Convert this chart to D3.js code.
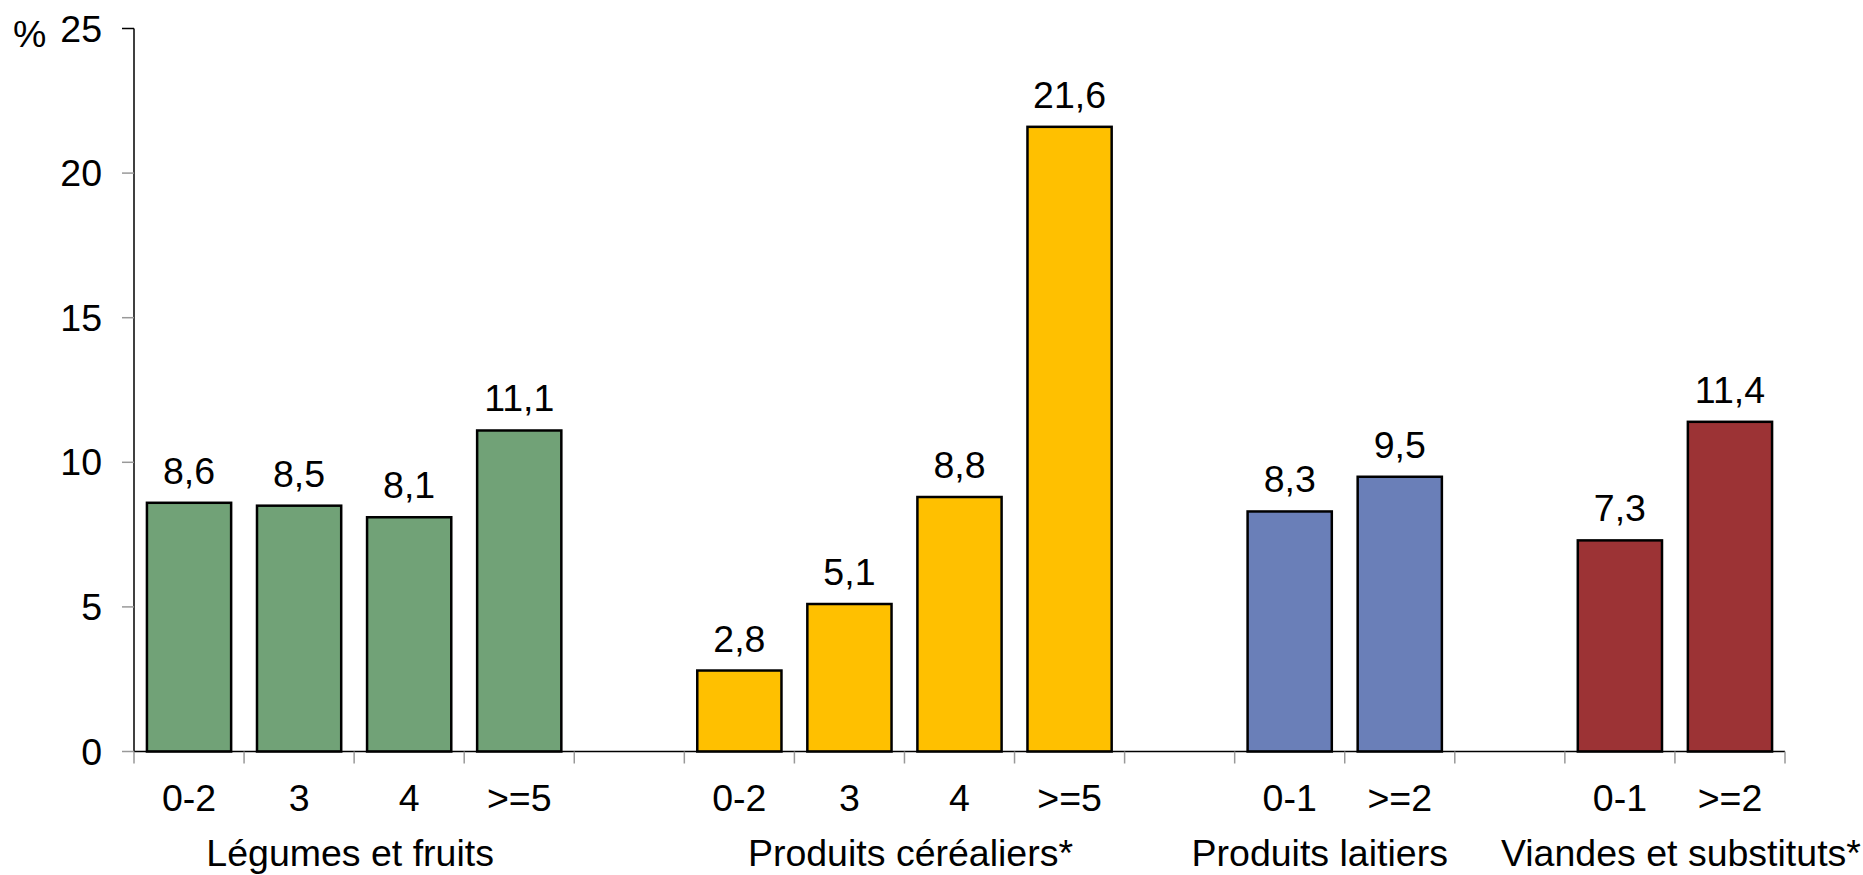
<!DOCTYPE html>
<html>
<head>
<meta charset="utf-8">
<script src="https://cdn.jsdelivr.net/npm/d3@7"></script>
<style>
html,body{margin:0;padding:0;background:#fff;}
svg{display:block;}
text{font-family:"Liberation Sans",Arial,sans-serif;fill:#000;}
</style>
</head>
<body>
<svg id="chart" width="1863" height="875"></svg>
<script>
// ---- data ----
const groups = ["Légumes et fruits", "Produits céréaliers*", "Produits laitiers", "Viandes et substituts*"];
const groupCategories = [
  ["0-2", "3", "4", ">=5"],
  ["0-2", "3", "4", ">=5"],
  ["0-1", ">=2"],
  ["0-1", ">=2"]
];
const groupValues = [
  [8.6, 8.5, 8.1, 11.1],
  [2.8, 5.1, 8.8, 21.6],
  [8.3, 9.5],
  [7.3, 11.4]
];
const groupColors = ["#71a277", "#ffc000", "#6a7fb8", "#9c3335"];
const yTicks = [0, 5, 10, 15, 20, 25];

// ---- layout ----
const M = {left: 134, right: 1785, top: 28.5, bottom: 751.5};
const fontSize = 37.5;
const groupLabelDx = [-4, 6, -25, 6];

// build slots: groups separated by an empty slot
const slots = [];
groups.forEach((g, gi) => {
  groupCategories[gi].forEach((c, ci) => {
    slots.push({id: gi + "_" + ci, group: gi, cat: c, value: groupValues[gi][ci], color: groupColors[gi]});
  });
  if (gi < groups.length - 1) slots.push({id: "gap" + gi, group: gi, gap: true});
});

const svg = d3.select("#chart");
const x = d3.scaleBand().domain(slots.map(d => d.id)).range([M.left, M.right]).padding(0);
const y = d3.scaleLinear().domain([0, 25]).range([M.bottom, M.top]);
const barW = x.bandwidth() * 0.765;

// y axis
const gy = svg.append("g");
gy.append("line").attr("x1", M.left).attr("x2", M.left).attr("y1", y(25)).attr("y2", y(0))
  .attr("stroke", "#000").attr("stroke-width", 1.5);
gy.selectAll("line.tick").data(yTicks).join("line").attr("class", "tick")
  .attr("x1", M.left - 12).attr("x2", M.left).attr("y1", d => y(d)).attr("y2", d => y(d))
  .attr("stroke", d => d === 25 ? "#000" : "#999").attr("stroke-width", 1.5);
gy.selectAll("text").data(yTicks).join("text")
  .attr("x", M.left - 32).attr("y", d => y(d)).attr("dy", "0.35em")
  .attr("text-anchor", "end").attr("font-size", fontSize).text(d => d);
svg.append("text").attr("x", 13).attr("y", y(25) + 18).attr("font-size", fontSize).text("%");

// bars
const bars = slots.filter(d => !d.gap);
svg.selectAll("rect.bar").data(bars).join("rect").attr("class", "bar")
  .attr("x", d => x(d.id) + (x.bandwidth() - barW) / 2)
  .attr("width", barW)
  .attr("y", d => y(d.value))
  .attr("height", d => y(0) - y(d.value))
  .attr("fill", d => d.color)
  .attr("stroke", "#000").attr("stroke-width", 2.5);

// value labels
svg.selectAll("text.val").data(bars).join("text").attr("class", "val")
  .attr("x", d => x(d.id) + x.bandwidth() / 2)
  .attr("y", d => y(d.value) - 19)
  .attr("text-anchor", "middle").attr("font-size", fontSize)
  .text(d => d3.format(".1f")(d.value).replace(".", ","));

// x axis
svg.append("line").attr("x1", M.left).attr("x2", M.right).attr("y1", y(0)).attr("y2", y(0))
  .attr("stroke", "#000").attr("stroke-width", 1.5);
const edges = slots.map(d => x(d.id)).concat([M.right]);
svg.selectAll("line.xtick").data(edges).join("line").attr("class", "xtick")
  .attr("x1", d => d).attr("x2", d => d).attr("y1", y(0)).attr("y2", y(0) + 12)
  .attr("stroke", "#999").attr("stroke-width", 1.5);

// category labels
svg.selectAll("text.cat").data(bars).join("text").attr("class", "cat")
  .attr("x", d => x(d.id) + x.bandwidth() / 2)
  .attr("y", 811)
  .attr("text-anchor", "middle").attr("font-size", fontSize)
  .text(d => d.cat);

// group labels
svg.selectAll("text.grp").data(groups).join("text").attr("class", "grp")
  .attr("x", (g, gi) => {
    const s = bars.filter(d => d.group === gi);
    const x0 = x(s[0].id), x1 = x(s[s.length - 1].id) + x.bandwidth();
    return (x0 + x1) / 2 + groupLabelDx[gi];
  })
  .attr("y", 866)
  .attr("text-anchor", "middle").attr("font-size", fontSize)
  .text(g => g);
</script>
</body>
</html>
